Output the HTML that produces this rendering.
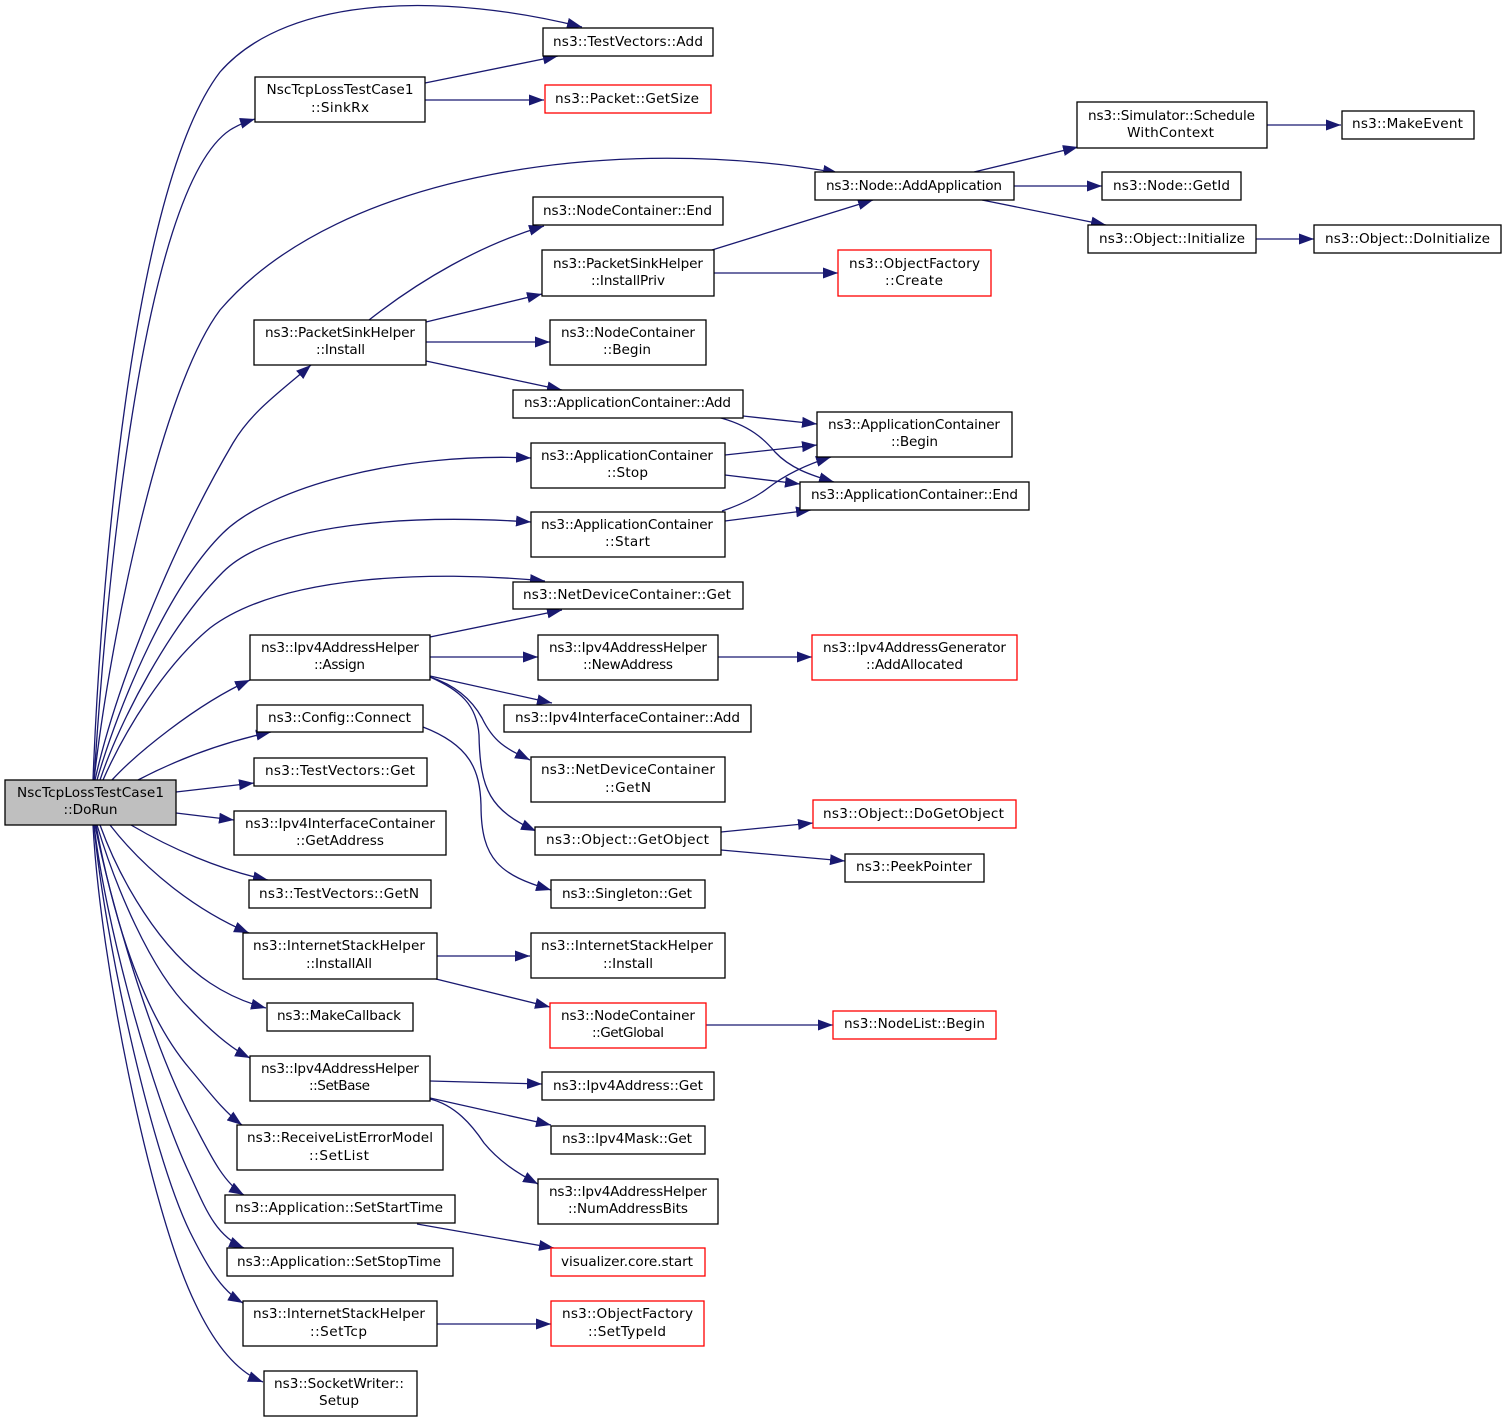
<!DOCTYPE html>
<html><head><meta charset="utf-8"><style>
html,body{margin:0;padding:0;background:#fff}
svg{display:block}
text{font-family:"DejaVu Sans",sans-serif;font-size:13.6px;fill:#000;text-anchor:middle}
rect{fill:#fff;stroke:#000;stroke-width:1.3}
rect.r{stroke:#f00}
path{fill:none;stroke:#191970;stroke-width:1.3;marker-end:url(#a)}
</style></head><body>
<svg width="1507" height="1421" viewBox="0 0 1507 1421" xmlns="http://www.w3.org/2000/svg">
<defs><marker id="a" markerUnits="userSpaceOnUse" markerWidth="17" markerHeight="13" refX="15" refY="6" orient="auto"><polygon points="0,0.5 15,6 0,11.5" fill="#191970"/></marker></defs>
<g>
<path d="M93,780C100,600 130,190 220,72C290,-8 450,-6 582,27"/>
<path d="M94,780C105,610 140,190 230,130C238,125 245,122 255,119"/>
<path d="M94,780C110,640 160,390 220,310C340,170 620,134 838,173"/>
<path d="M95,780C115,690 170,550 233,443C252,411 280,392 311,365"/>
<path d="M97,780C120,700 170,585 223,533C270,487 400,452 531,458"/>
<path d="M100,780C120,720 170,625 223,572C272,523 410,514 531,522"/>
<path d="M103,780C125,730 165,665 210,628C280,575 430,570 545,581"/>
<path d="M112,780C135,755 195,705 250,680"/>
<path d="M138,780C180,758 225,742 271,732"/>
<path d="M176,792L254,783"/>
<path d="M176,813L234,820"/>
<path d="M131,825C170,848 220,870 268,880"/>
<path d="M110,825C145,870 195,910 249,933"/>
<path d="M100,825C120,880 160,950 210,983C228,995 247,1003 266,1008"/>
<path d="M97,825C115,885 150,970 190,1009C210,1030 230,1048 250,1058"/>
<path d="M96,825C108,890 135,1005 190,1069C207,1089 222,1110 242,1125"/>
<path d="M95,825C110,900 150,1040 192,1120C208,1150 222,1182 244,1195"/>
<path d="M94,825C105,920 150,1090 190,1175C206,1210 216,1236 244,1248"/>
<path d="M94,825C103,930 150,1150 190,1232C205,1262 220,1290 243,1303"/>
<path d="M93,825C100,960 150,1210 195,1303C210,1335 232,1370 263,1382"/>

<path d="M425,83L558,56"/>
<path d="M425,100L544,100"/>
<path d="M369,320C420,280 480,245 544,226"/>
<path d="M426,322L542,294"/>
<path d="M426,342L550,342"/>
<path d="M426,361L562,390"/>
<path d="M712,250L873,200"/>
<path d="M714,273L838,273"/>
<path d="M743,416L817,424"/>
<path d="M717,417C750,425 765,440 775,452C790,468 810,475 834,482"/>
<path d="M725,455L817,445"/>
<path d="M725,475L800,484"/>
<path d="M722,511C740,505 755,498 768,488C785,475 805,465 831,457"/>
<path d="M725,521L811,510"/>
<path d="M974,172L1078,147"/>
<path d="M1014,186L1102,186"/>
<path d="M982,200L1106,225"/>
<path d="M1267,125L1341,125"/>
<path d="M1256,239L1314,239"/>
<path d="M430,637L562,610"/>
<path d="M430,657L538,657"/>
<path d="M718,657L812,657"/>
<path d="M430,676L552,703"/>
<path d="M430,677C455,685 472,700 482,718C495,745 510,750 530,760"/>
<path d="M430,677C460,690 477,705 479,735C480,790 490,810 536,831"/>
<path d="M423,727C470,745 480,770 481,805C481,860 500,875 551,890"/>
<path d="M721,832L813,823"/>
<path d="M721,850L845,861"/>
<path d="M437,956L530,956"/>
<path d="M436,979L550,1007"/>
<path d="M706,1025L833,1025"/>
<path d="M430,1081L542,1084"/>
<path d="M430,1098L551,1125"/>
<path d="M430,1099C455,1105 472,1125 484,1143C498,1160 515,1172 538,1184"/>
<path d="M417,1224L554,1248"/>
<path d="M437,1324L551,1324"/>
</g>
<g>
<rect x="5" y="780" width="171" height="45" style="fill:#bfbfbf"/><text x="90.500" y="797" textLength="147">NscTcpLossTestCase1</text><text x="90.500" y="814" textLength="54">::DoRun</text>
<rect x="543" y="28" width="170" height="28"/><text x="628" y="46" textLength="150">ns3::TestVectors::Add</text>
<rect x="255" y="77" width="170" height="45"/><text x="340" y="94" textLength="147">NscTcpLossTestCase1</text><text x="340" y="112" textLength="58">::SinkRx</text>
<rect class="r" x="545" y="85" width="166" height="28"/><text x="627" y="103" textLength="144">ns3::Packet::GetSize</text>
<rect x="815" y="172" width="199" height="28"/><text x="914" y="190" textLength="176">ns3::Node::AddApplication</text>
<rect x="1077" y="102" width="190" height="46"/><text x="1171.500" y="120" textLength="167">ns3::Simulator::Schedule</text><text x="1170.500" y="137" textLength="87">WithContext</text>
<rect x="1342" y="111" width="132" height="28"/><text x="1407.500" y="128" textLength="111">ns3::MakeEvent</text>
<rect x="1102" y="172" width="139" height="28"/><text x="1171.500" y="190" textLength="117">ns3::Node::GetId</text>
<rect x="1088" y="225" width="168" height="28"/><text x="1172" y="243" textLength="146">ns3::Object::Initialize</text>
<rect x="1314" y="225" width="187" height="28"/><text x="1407.500" y="243" textLength="165">ns3::Object::DoInitialize</text>
<rect x="533" y="197" width="190" height="28"/><text x="627.500" y="215" textLength="169">ns3::NodeContainer::End</text>
<rect x="542" y="250" width="172" height="46"/><text x="628" y="268" textLength="150">ns3::PacketSinkHelper</text><text x="628" y="285" textLength="74">::InstallPriv</text>
<rect class="r" x="838" y="250" width="153" height="46"/><text x="914.500" y="268" textLength="131">ns3::ObjectFactory</text><text x="914" y="285" textLength="58">::Create</text>
<rect x="254" y="320" width="172" height="45"/><text x="340" y="337" textLength="150">ns3::PacketSinkHelper</text><text x="340.500" y="354" textLength="49">::Install</text>
<rect x="550" y="320" width="156" height="45"/><text x="628" y="337" textLength="134">ns3::NodeContainer</text><text x="627" y="354" textLength="48">::Begin</text>
<rect x="513" y="390" width="230" height="28"/><text x="627.500" y="407" textLength="207">ns3::ApplicationContainer::Add</text>
<rect x="817" y="412" width="195" height="45"/><text x="914" y="429" textLength="172">ns3::ApplicationContainer</text><text x="914.500" y="446" textLength="47">::Begin</text>
<rect x="531" y="443" width="194" height="45"/><text x="627" y="460" textLength="172">ns3::ApplicationContainer</text><text x="627.500" y="477" textLength="41">::Stop</text>
<rect x="800" y="482" width="229" height="28"/><text x="914.500" y="499" textLength="207">ns3::ApplicationContainer::End</text>
<rect x="531" y="512" width="194" height="45"/><text x="627" y="529" textLength="172">ns3::ApplicationContainer</text><text x="627.500" y="546" textLength="45">::Start</text>
<rect x="513" y="582" width="230" height="27"/><text x="627" y="599" textLength="208">ns3::NetDeviceContainer::Get</text>
<rect x="250" y="635" width="180" height="45"/><text x="340" y="652" textLength="158">ns3::Ipv4AddressHelper</text><text x="339.500" y="669" textLength="51">::Assign</text>
<rect x="538" y="635" width="180" height="45"/><text x="628" y="652" textLength="158">ns3::Ipv4AddressHelper</text><text x="628" y="669" textLength="90">::NewAddress</text>
<rect class="r" x="812" y="635" width="205" height="45"/><text x="914.500" y="652" textLength="183">ns3::Ipv4AddressGenerator</text><text x="914.500" y="669" textLength="97">::AddAllocated</text>
<rect x="257" y="705" width="166" height="27"/><text x="339.500" y="722" textLength="143">ns3::Config::Connect</text>
<rect x="504" y="705" width="247" height="27"/><text x="627.500" y="722" textLength="225">ns3::Ipv4InterfaceContainer::Add</text>
<rect x="254" y="758" width="173" height="28"/><text x="340" y="775" textLength="150">ns3::TestVectors::Get</text>
<rect x="531" y="757" width="194" height="45"/><text x="628" y="774" textLength="174">ns3::NetDeviceContainer</text><text x="628" y="792" textLength="46">::GetN</text>
<rect class="r" x="813" y="800" width="203" height="28"/><text x="913.500" y="818" textLength="181">ns3::Object::DoGetObject</text>
<rect x="234" y="811" width="212" height="44"/><text x="340" y="828" textLength="190">ns3::Ipv4InterfaceContainer</text><text x="340" y="845" textLength="88">::GetAddress</text>
<rect x="535" y="827" width="186" height="28"/><text x="627.500" y="844" textLength="163">ns3::Object::GetObject</text>
<rect x="845" y="854" width="139" height="28"/><text x="914" y="871" textLength="116">ns3::PeekPointer</text>
<rect x="249" y="880" width="182" height="28"/><text x="339" y="898" textLength="160">ns3::TestVectors::GetN</text>
<rect x="551" y="880" width="154" height="28"/><text x="627" y="898" textLength="130">ns3::Singleton::Get</text>
<rect x="243" y="933" width="194" height="46"/><text x="339" y="950" textLength="172">ns3::InternetStackHelper</text><text x="339" y="968" textLength="66">::InstallAll</text>
<rect x="531" y="933" width="194" height="45"/><text x="627" y="950" textLength="172">ns3::InternetStackHelper</text><text x="628" y="968" textLength="50">::Install</text>
<rect x="267" y="1003" width="146" height="28"/><text x="339" y="1020" textLength="124">ns3::MakeCallback</text>
<rect class="r" x="550" y="1003" width="156" height="45"/><text x="628" y="1020" textLength="134">ns3::NodeContainer</text><text x="628" y="1037" textLength="72">::GetGlobal</text>
<rect class="r" x="833" y="1011" width="163" height="28"/><text x="914.500" y="1028" textLength="141">ns3::NodeList::Begin</text>
<rect x="250" y="1056" width="180" height="45"/><text x="340" y="1073" textLength="158">ns3::Ipv4AddressHelper</text><text x="339.500" y="1090" textLength="61">::SetBase</text>
<rect x="542" y="1072" width="172" height="28"/><text x="628" y="1090" textLength="150">ns3::Ipv4Address::Get</text>
<rect x="237" y="1125" width="206" height="45"/><text x="340" y="1142" textLength="186">ns3::ReceiveListErrorModel</text><text x="339" y="1160" textLength="60">::SetList</text>
<rect x="551" y="1126" width="154" height="28"/><text x="627" y="1143" textLength="130">ns3::Ipv4Mask::Get</text>
<rect x="538" y="1179" width="180" height="45"/><text x="628" y="1196" textLength="158">ns3::Ipv4AddressHelper</text><text x="628" y="1213" textLength="120">::NumAddressBits</text>
<rect x="225" y="1195" width="230" height="28"/><text x="339" y="1212" textLength="208">ns3::Application::SetStartTime</text>
<rect x="227" y="1248" width="226" height="28"/><text x="339" y="1266" textLength="204">ns3::Application::SetStopTime</text>
<rect class="r" x="551" y="1248" width="154" height="28"/><text x="627" y="1266" textLength="132">visualizer.core.start</text>
<rect x="243" y="1301" width="194" height="45"/><text x="339" y="1318" textLength="172">ns3::InternetStackHelper</text><text x="338.500" y="1336" textLength="57">::SetTcp</text>
<rect class="r" x="551" y="1301" width="153" height="45"/><text x="627.500" y="1318" textLength="131">ns3::ObjectFactory</text><text x="627" y="1336" textLength="78">::SetTypeId</text>
<rect x="264" y="1371" width="153" height="45"/><text x="339" y="1388" textLength="130">ns3::SocketWriter::</text><text x="339" y="1405" textLength="40">Setup</text>
</g>
</svg>
</body></html>
